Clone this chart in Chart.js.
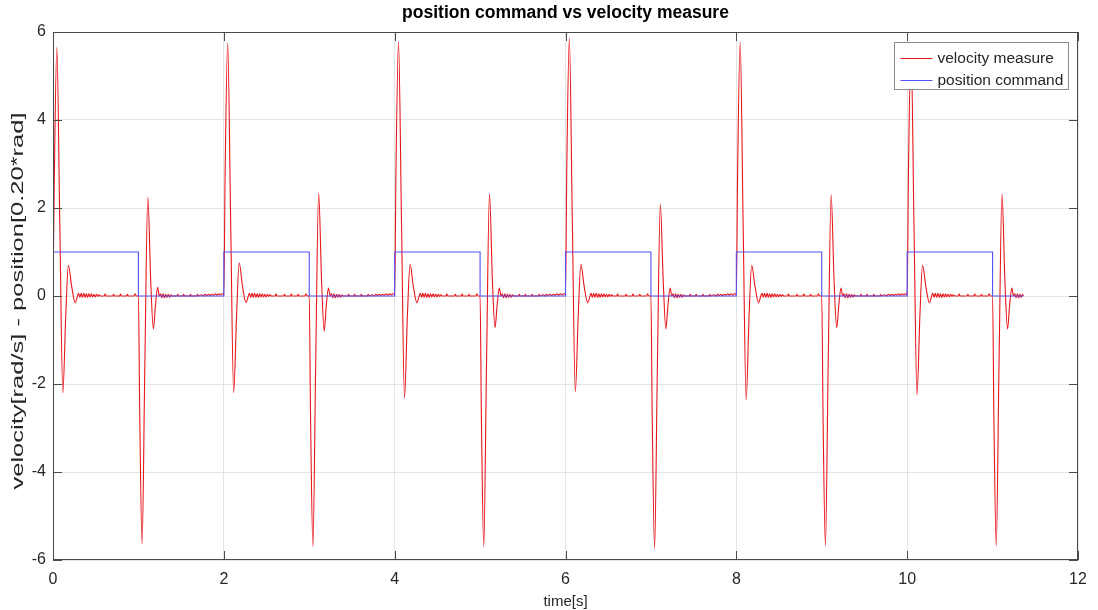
<!DOCTYPE html>
<html>
<head>
<meta charset="utf-8">
<script src="https://cdn.jsdelivr.net/npm/chart.js@4.4.1/dist/chart.umd.min.js"></script>
<style>
  html, body { margin: 0; padding: 0; background: #fff; }
</style>
</head>
<body>
<canvas id="myChart" width="1098" height="610"></canvas>
<script>
// steps of the position command (s) and its level after each step
const stepTimes = [0, 1, 2, 3, 4, 5, 6, 7, 8, 9, 10, 11];
const commandLevels = [1, 0, 1, 0, 1, 0, 1, 0, 1, 0, 1, 0];
const endTime = 11.36;

// velocity transient after a rising step (offset in s from the step)
const riseOffsets = [0, 0.015, 0.045, 0.08, 0.115, 0.15, 0.18, 0.22, 0.26, 0.29];
const riseValues = [
  [0, 2.6, 5.65, 1.6, -2.2, -0.4, 0.7, 0.2, -0.15, 0.02],
  [0, 2.8, 5.75, 1.7, -2.2, -0.4, 0.75, 0.2, -0.15, 0.02],
  [0, 2.8, 5.78, 1.7, -2.32, -0.4, 0.72, 0.2, -0.15, 0.02],
  [0, 2.9, 5.86, 1.7, -2.18, -0.4, 0.72, 0.2, -0.15, 0.02],
  [0, 2.8, 5.77, 1.6, -2.36, -0.4, 0.7, 0.2, -0.15, 0.02],
  [0, 2.8, 5.7, 1.6, -2.25, -0.4, 0.7, 0.2, -0.15, 0.02]
];

// velocity transient after a falling step
const fallOffsets = [0, 0.015, 0.043, 0.075, 0.11, 0.145, 0.175, 0.2, 0.225, 0.245];
const fallValues = [
  [0, -2.6, -5.64, -1.6, 2.25, 0.3, -0.75, -0.2, 0.2, 0],
  [0, -2.7, -5.7, -1.6, 2.34, 0.3, -0.8, -0.2, 0.18, 0],
  [0, -2.7, -5.7, -1.6, 2.32, 0.3, -0.72, -0.2, 0.18, 0],
  [0, -2.7, -5.75, -1.7, 2.09, 0.3, -0.75, -0.2, 0.18, 0],
  [0, -2.7, -5.68, -1.6, 2.3, 0.3, -0.72, -0.2, 0.18, 0],
  [0, -2.7, -5.68, -1.6, 2.32, 0.3, -0.75, -0.2, 0.18, 0]
];

// small ripple left after each transient
const riseTailOffsets = [0.3, 0.315, 0.33, 0.345, 0.36, 0.375, 0.39, 0.405, 0.42, 0.435, 0.45, 0.465, 0.48, 0.495, 0.51, 0.525, 0.54, 0.555,
  0.6, 0.61, 0.62, 0.7, 0.71, 0.72, 0.78, 0.79, 0.8, 0.86, 0.87, 0.88, 0.95, 0.96, 0.975];
const riseTailValues = [0.06, -0.03, 0.06, -0.03, 0.06, -0.03, 0.05, -0.03, 0.05, -0.02, 0.05, -0.02, 0.04, -0.02, 0.04, -0.01, 0.03, 0,
  0, 0.05, 0, 0, 0.04, 0, 0, 0.05, 0, 0, 0.04, 0, 0, 0.05, 0];
const fallTailOffsets = [0.26, 0.275, 0.29, 0.305, 0.32, 0.335, 0.35, 0.365, 0.38, 0.395, 0.45, 0.46, 0.47, 0.52, 0.53, 0.54, 0.6, 0.61, 0.62,
  0.68, 0.69, 0.7, 0.74, 0.76, 0.78, 0.8, 0.82, 0.84, 0.86, 0.88, 0.9, 0.92, 0.94, 0.96, 0.98, 0.995];
const fallTailValues = [0.05, -0.04, 0.05, -0.04, 0.04, -0.03, 0.04, -0.03, 0.03, 0, 0, 0.04, 0, 0, 0.04, 0, 0, 0.04, 0,
  0, 0.04, 0, 0.03, 0, 0.04, 0.01, 0.04, 0.01, 0.04, 0.02, 0.05, 0.02, 0.05, 0.03, 0.05, 0.05];

const yTitle = 'velocity[rad/s] - position[0.20*rad]';

const velocityPoints = [];
stepTimes.forEach((t0, i) => {
  const k = Math.floor(i / 2);
  const up = commandLevels[i] === 1;
  const offs = up ? riseOffsets.concat(riseTailOffsets) : fallOffsets.concat(fallTailOffsets);
  const vals = up ? riseValues[k].concat(riseTailValues) : fallValues[k].concat(fallTailValues);
  offs.forEach((o, j) => {
    if (t0 + o < endTime) velocityPoints.push({ x: t0 + o, y: vals[j] });
  });
});
velocityPoints.push({ x: endTime, y: 0 });

const commandPoints = stepTimes.map((t, i) => ({ x: t, y: commandLevels[i] }));
commandPoints.push({ x: endTime, y: 0 });

const axisColor = '#4a4a4a';
const textColor = '#262626';
const fontFamily = '"Liberation Sans", Arial, sans-serif';

// box round the plot, inward ticks, y label and the legend, MATLAB style
const matlabFrame = {
  id: 'matlabFrame',
  afterDatasetsDraw(chart) {
    const { ctx, chartArea: a, scales } = chart;
    ctx.save();
    ctx.strokeStyle = axisColor;
    ctx.lineWidth = 1;
    ctx.strokeRect(Math.round(a.left) + 0.5, Math.round(a.top) + 0.5, Math.round(a.width) - 1, Math.round(a.height) - 1);
    const tl = 9;
    ctx.beginPath();
    scales.x.ticks.forEach(t => {
      const px = Math.round(scales.x.getPixelForValue(t.value)) + 0.5;
      ctx.moveTo(px, a.bottom); ctx.lineTo(px, a.bottom - tl);
      ctx.moveTo(px, a.top); ctx.lineTo(px, a.top + tl);
    });
    scales.y.ticks.forEach(t => {
      const py = Math.round(scales.y.getPixelForValue(t.value)) + 0.5;
      ctx.moveTo(a.left, py); ctx.lineTo(a.left + tl, py);
      ctx.moveTo(a.right, py); ctx.lineTo(a.right - tl, py);
    });
    ctx.stroke();

    // y axis label, a little stretched along its length like the source figure
    ctx.save();
    ctx.translate(18, (a.top + a.bottom) / 2 + 5);
    ctx.rotate(-Math.PI / 2);
    ctx.scale(1.5, 1);
    ctx.font = '17px ' + fontFamily;
    ctx.fillStyle = textColor;
    ctx.textAlign = 'center';
    ctx.textBaseline = 'middle';
    ctx.fillText(yTitle, 0, 0);
    ctx.restore();

    // legend
    const bw = 174, bh = 47;
    const bx = Math.round(a.right - 10 - bw) + 0.5, by = Math.round(a.top + 10) + 0.5;
    ctx.fillStyle = '#fff';
    ctx.fillRect(bx, by, bw, bh);
    ctx.strokeStyle = '#8c8c8c';
    ctx.strokeRect(bx, by, bw, bh);
    ctx.font = '15.5px ' + fontFamily;
    ctx.textBaseline = 'middle';
    ctx.textAlign = 'left';
    chart.data.datasets.forEach((ds, i) => {
      const ry = Math.round(by + 15 + i * 22) + 0.5;
      ctx.strokeStyle = ds.borderColor;
      ctx.beginPath();
      ctx.moveTo(bx + 6, ry); ctx.lineTo(bx + 38, ry);
      ctx.stroke();
      ctx.fillStyle = textColor;
      ctx.fillText(ds.label, bx + 43, ry);
    });
    ctx.restore();
  }
};

Chart.defaults.font.family = fontFamily;

const chartCanvas = document.getElementById('myChart');
const myChart = new Chart(chartCanvas.getContext('2d'), {
  type: 'line',
  data: {
    datasets: [
      {
        label: 'velocity measure',
        data: velocityPoints,
        borderColor: '#e8161b',
        borderWidth: 1.1,
        pointRadius: 0,
        cubicInterpolationMode: 'monotone',
        order: 1
      },
      {
        label: 'position command',
        data: commandPoints,
        borderColor: '#5252f5',
        borderWidth: 1.1,
        pointRadius: 0,
        stepped: true,
        order: 0
      }
    ]
  },
  options: {
    responsive: false,
    animation: false,
    layout: { padding: { left: 0, right: 20, top: 0, bottom: 0 } },
    plugins: {
      legend: { display: false },
      tooltip: { enabled: false },
      title: {
        display: true,
        fullSize: false,
        text: 'position command vs velocity measure',
        color: '#000',
        font: { size: 17.5, weight: 'bold' },
        padding: { top: 3, bottom: 8 }
      }
    },
    scales: {
      x: {
        type: 'linear',
        min: 0,
        max: 12,
        ticks: { stepSize: 2, color: textColor, font: { size: 16 }, padding: 10, maxRotation: 0 },
        grid: { color: '#e4e4e4', drawTicks: false },
        border: { display: false },
        title: { display: true, text: 'time[s]', color: textColor, font: { size: 15 }, padding: { top: 0, bottom: -1 } },
        afterFit(scale) { scale.height = 50; }
      },
      y: {
        min: -6,
        max: 6,
        ticks: { stepSize: 2, color: textColor, font: { size: 16 }, padding: 7 },
        grid: { color: '#e4e4e4', drawTicks: false },
        border: { display: false },
        afterFit(scale) { scale.width = 53; }
      }
    }
  },
  plugins: [matlabFrame]
});
</script>
</body>
</html>
